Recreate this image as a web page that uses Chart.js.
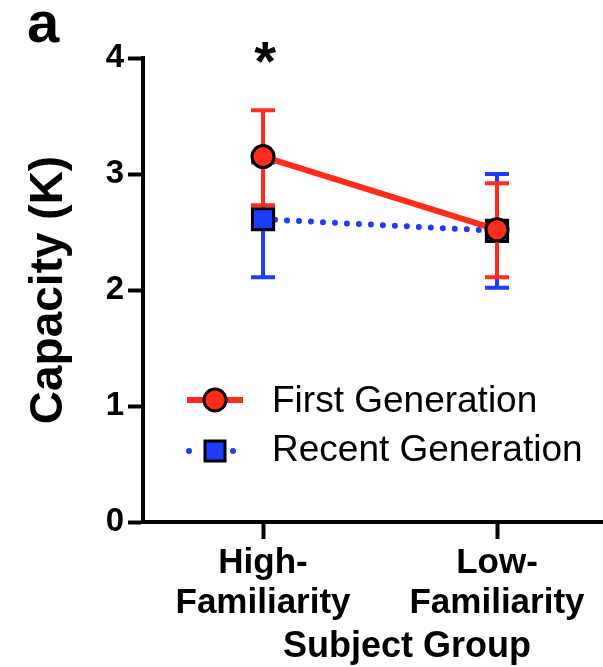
<!DOCTYPE html>
<html>
<head>
<meta charset="utf-8">
<script src="https://cdn.jsdelivr.net/npm/chart.js@4.4.1/dist/chart.umd.min.js"></script>
<style>
  body { margin: 0; background: #fff; }
  #chart { display: block; }
</style>
</head>
<body>
<canvas id="chart" width="603" height="667"></canvas>
<script>
// values
const categories = ["High-Familiarity", "Low-Familiarity"];
const tickLabels = [["High-", "Familiarity"], ["Low-", "Familiarity"]];
const firstGen = [3.15, 2.52];
const firstGenUpper = [3.55, 2.92];
const firstGenLower = [2.73, 2.11];
const recentGen = [2.61, 2.51];
const recentGenUpper = [3.10, 3.00];
const recentGenLower = [2.11, 2.02];
const significance = ["*", ""];
const yTicks = [0, 1, 2, 3, 4];

const RED = "#ff2b1c";
const BLUE = "#1e3cff";
const FONT = "'Liberation Sans', Arial, sans-serif";

const toPoints = (vals) => vals.map((v, i) => ({ x: i, y: v }));

const errorBars = {
  id: "errorBars",
  beforeDatasetDraw(chart, args) {
    const ds = chart.data.datasets[args.index];
    const { ctx, scales } = chart;
    ctx.save();
    ctx.strokeStyle = ds.borderColor;
    ctx.lineWidth = 4;
    ds.upper.forEach((u, i) => {
      const x = scales.x.getPixelForValue(i);
      const yu = scales.y.getPixelForValue(u);
      const yl = scales.y.getPixelForValue(ds.lower[i]);
      ctx.beginPath();
      ctx.moveTo(x, yu);
      ctx.lineTo(x, yl);
      ctx.moveTo(x - 12, yu);
      ctx.lineTo(x + 12, yu);
      ctx.moveTo(x - 12, yl);
      ctx.lineTo(x + 12, yl);
      ctx.stroke();
    });
    ctx.restore();
  },
};

const extras = {
  id: "extras",
  afterDraw(chart) {
    const { ctx, chartArea, scales } = chart;
    ctx.save();
    ctx.fillStyle = "#000";

    // panel letter
    ctx.font = "bold 58px " + FONT;
    ctx.textBaseline = "alphabetic";
    ctx.textAlign = "left";
    ctx.fillText("a", 27, 42);

    // significance marks
    ctx.font = "bold 56px " + FONT;
    ctx.textAlign = "center";
    significance.forEach((s, i) => {
      if (s) ctx.fillText(s, scales.x.getPixelForValue(i) + 2, chartArea.top + 22);
    });

    // axis titles
    ctx.font = "bold 36px " + FONT;
    ctx.fillText("Subject Group", 407, 657);

    ctx.save();
    ctx.translate(62, (chartArea.top + chartArea.bottom) / 2);
    ctx.rotate(-Math.PI / 2);
    ctx.font = "bold 46px " + FONT;
    ctx.fillText("Capacity (K)", 0, 0);
    ctx.restore();

    // legend inside the plot
    const ds = chart.data.datasets;
    const lx = chartArea.left + 72;
    const rows = [chartArea.top + 342, chartArea.top + 393];

    ctx.strokeStyle = ds[0].borderColor;
    ctx.lineWidth = 6;
    ctx.beginPath();
    ctx.moveTo(lx - 28, rows[0]);
    ctx.lineTo(lx + 28, rows[0]);
    ctx.stroke();
    ctx.beginPath();
    ctx.arc(lx, rows[0], 11, 0, Math.PI * 2);
    ctx.fillStyle = ds[0].pointBackgroundColor;
    ctx.fill();
    ctx.lineWidth = 3;
    ctx.strokeStyle = "#000";
    ctx.stroke();

    ctx.fillStyle = ds[1].borderColor;
    [-26, 18].forEach((dx) => {
      ctx.beginPath();
      ctx.arc(lx + dx, rows[1], 3, 0, Math.PI * 2);
      ctx.fill();
    });
    ctx.fillStyle = ds[1].pointBackgroundColor;
    ctx.fillRect(lx - 10, rows[1] - 10, 20, 20);
    ctx.lineWidth = 3;
    ctx.strokeRect(lx - 10, rows[1] - 10, 20, 20);

    ctx.fillStyle = "#000";
    ctx.font = "37px " + FONT;
    ctx.textAlign = "left";
    ctx.fillText(ds[0].label, lx + 57, rows[0] + 12);
    ctx.fillText(ds[1].label, lx + 57, rows[1] + 10);
    ctx.restore();
  },
};

new Chart(document.getElementById("chart"), {
  type: "line",
  data: {
    datasets: [
      {
        label: "First Generation",
        data: toPoints(firstGen),
        upper: firstGenUpper,
        lower: firstGenLower,
        borderColor: RED,
        borderWidth: 6,
        pointStyle: "circle",
        pointRadius: 11,
        pointBackgroundColor: RED,
        pointBorderColor: "#000",
        pointBorderWidth: 3,
      },
      {
        label: "Recent Generation",
        data: toPoints(recentGen),
        upper: recentGenUpper,
        lower: recentGenLower,
        borderColor: BLUE,
        borderWidth: 6,
        borderDash: [0, 12],
        borderCapStyle: "round",
        pointStyle: "rect",
        pointRadius: 15,
        pointBackgroundColor: BLUE,
        pointBorderColor: "#000",
        pointBorderWidth: 3,
      },
    ],
  },
  options: {
    responsive: false,
    animation: false,
    layout: { autoPadding: false, padding: { top: 58, right: 0, bottom: 0, left: 0 } },
    plugins: { legend: { display: false }, tooltip: { enabled: false } },
    scales: {
      x: {
        type: "linear",
        min: -0.513,
        max: 1.453,
        afterBuildTicks: (scale) => {
          scale.ticks = categories.map((c, i) => ({ value: i }));
        },
        afterFit: (scale) => {
          scale.height = 145;
          scale.paddingLeft = 0;
          scale.paddingRight = 0;
        },
        grid: { drawOnChartArea: false, tickLength: 17, tickWidth: 4, tickColor: "#000" },
        border: { display: true, width: 4, color: "#000" },
        ticks: {
          color: "#000",
          padding: 4,
          maxRotation: 0,
          font: { family: FONT, size: 35, weight: "bold", lineHeight: 1.15 },
          callback: (v) => tickLabels[v],
        },
      },
      y: {
        min: 0,
        max: 4,
        afterBuildTicks: (scale) => {
          scale.ticks = yTicks.map((v) => ({ value: v }));
        },
        afterFit: (scale) => {
          scale.width = 143;
          scale.paddingTop = 0;
          scale.paddingBottom = 0;
        },
        grid: { drawOnChartArea: false, tickLength: 15, tickWidth: 4, tickColor: "#000" },
        border: { display: true, width: 4, color: "#000" },
        ticks: {
          color: "#000",
          padding: 4,
          font: { family: FONT, size: 33, weight: "bold" },
        },
      },
    },
  },
  plugins: [errorBars, extras],
});
</script>
</body>
</html>
